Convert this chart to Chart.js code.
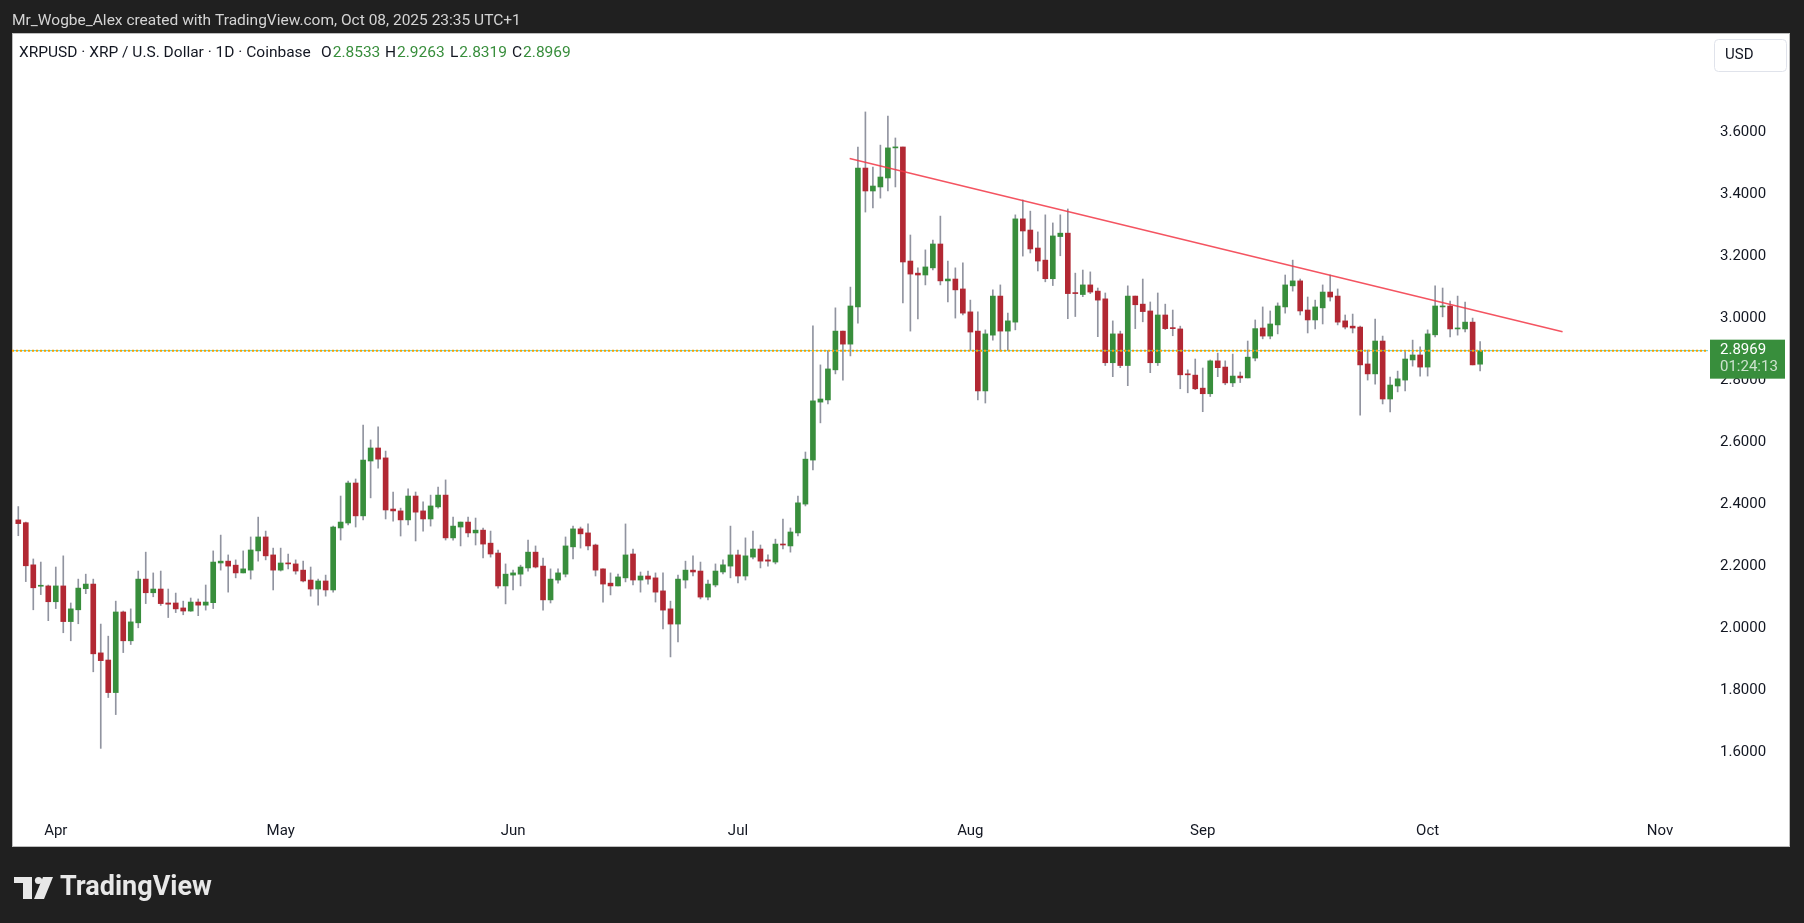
<!DOCTYPE html>
<html>
<head>
<meta charset="utf-8">
<title>XRPUSD daily</title>
<script src="https://cdn.jsdelivr.net/npm/chart.js@4.4.1/dist/chart.umd.min.js"></script>
<style>
  html, body { margin: 0; padding: 0; background: #202020; overflow: hidden; }
  canvas { display: block; }
</style>
</head>
<body>
<canvas id="chart" width="1804" height="923"></canvas>
<script>

// Daily candles, 27 Mar 2025 -> 8 Oct 2025
var opens = [
	2.351, 2.342, 2.206, 2.137, 2.138, 2.087, 2.138, 2.023, 2.061, 2.129,
	2.144, 1.922, 1.899, 1.794, 2.054, 1.961, 2.019, 2.160, 2.116, 2.128,
	2.083, 2.083, 2.067, 2.057, 2.086, 2.076, 2.084, 2.212, 2.218, 2.205,
	2.180, 2.189, 2.251, 2.296, 2.238, 2.189, 2.212, 2.209, 2.189, 2.157,
	2.128, 2.154, 2.125, 2.325, 2.341, 2.470, 2.364, 2.541, 2.583, 2.551,
	2.386, 2.380, 2.351, 2.428, 2.380, 2.354, 2.393, 2.431, 2.293, 2.328,
	2.344, 2.309, 2.318, 2.276, 2.244, 2.138, 2.173, 2.176, 2.196, 2.247,
	2.202, 2.093, 2.157, 2.176, 2.264, 2.322, 2.309, 2.270, 2.193, 2.147,
	2.138, 2.164, 2.241, 2.157, 2.170, 2.164, 2.122, 2.064, 2.015, 2.157,
	2.189, 2.186, 2.102, 2.141, 2.183, 2.202, 2.238, 2.170, 2.231, 2.257,
	2.222, 2.215, 2.273, 2.267, 2.309, 2.402, 2.544, 2.731, 2.738, 2.835,
	2.960, 2.918, 3.038, 3.486, 3.412, 3.425, 3.454, 3.551, 3.554, 3.186,
	3.147, 3.141, 3.164, 3.241, 3.122, 3.128, 3.096, 3.022, 2.960, 2.767,
	2.947, 3.073, 2.960, 2.989, 3.322, 3.286, 3.228, 3.189, 3.129, 3.265,
	3.276, 3.083, 3.078, 3.109, 3.089, 3.064, 2.858, 2.951, 2.849, 3.073,
	3.047, 3.025, 2.858, 3.012, 2.970, 2.967, 2.821, 2.818, 2.776, 2.758,
	2.864, 2.844, 2.793, 2.815, 2.809, 2.873, 2.970, 2.944, 2.980, 3.038,
	3.106, 3.122, 3.028, 2.996, 3.035, 3.086, 3.073, 2.993, 2.976, 2.973,
	2.854, 2.822, 2.928, 2.741, 2.783, 2.802, 2.867, 2.883, 2.844, 2.948,
	3.038, 3.041, 2.967, 2.967, 2.989, 2.8533
];
var highs = [
	2.394, 2.344, 2.225, 2.215, 2.141, 2.199, 2.235, 2.083, 2.160, 2.176,
	2.160, 2.015, 1.976, 2.089, 2.057, 2.064, 2.186, 2.247, 2.180, 2.186,
	2.128, 2.115, 2.089, 2.099, 2.096, 2.141, 2.251, 2.302, 2.238, 2.222,
	2.251, 2.296, 2.360, 2.315, 2.260, 2.260, 2.241, 2.222, 2.218, 2.199,
	2.160, 2.173, 2.331, 2.428, 2.476, 2.483, 2.657, 2.609, 2.651, 2.573,
	2.441, 2.389, 2.451, 2.441, 2.409, 2.431, 2.457, 2.480, 2.360, 2.344,
	2.360, 2.357, 2.325, 2.315, 2.254, 2.209, 2.189, 2.205, 2.286, 2.267,
	2.228, 2.193, 2.193, 2.296, 2.331, 2.328, 2.338, 2.273, 2.193, 2.180,
	2.176, 2.338, 2.257, 2.183, 2.186, 2.180, 2.180, 2.089, 2.173, 2.218,
	2.235, 2.215, 2.157, 2.209, 2.222, 2.331, 2.254, 2.293, 2.315, 2.270,
	2.238, 2.289, 2.354, 2.325, 2.428, 2.570, 2.977, 2.851, 2.896, 3.035,
	2.960, 3.102, 3.554, 3.667, 3.489, 3.560, 3.654, 3.583, 3.554, 3.270,
	3.164, 3.222, 3.254, 3.331, 3.186, 3.164, 3.180, 3.060, 3.022, 2.964,
	3.093, 3.109, 3.018, 3.335, 3.383, 3.347, 3.280, 3.335, 3.309, 3.335,
	3.354, 3.147, 3.157, 3.151, 3.099, 3.083, 2.993, 2.960, 3.106, 3.073,
	3.128, 3.054, 3.083, 3.047, 3.028, 2.976, 2.835, 2.870, 2.841, 2.867,
	2.889, 2.864, 2.886, 2.828, 2.928, 2.996, 3.038, 3.025, 3.051, 3.141,
	3.189, 3.128, 3.070, 3.060, 3.109, 3.141, 3.096, 3.012, 3.015, 2.976,
	2.899, 2.999, 2.944, 2.812, 2.831, 2.896, 2.931, 2.909, 2.964, 3.106,
	3.099, 3.057, 3.073, 3.054, 3.002, 2.9263
];
var lows = [
	2.300, 2.152, 2.061, 2.110, 2.026, 2.065, 1.987, 1.961, 2.016, 2.113,
	1.861, 1.614, 1.778, 1.723, 1.923, 1.949, 2.003, 2.081, 2.103, 2.075,
	2.036, 2.052, 2.045, 2.056, 2.042, 2.060, 2.065, 2.189, 2.118, 2.164,
	2.180, 2.160, 2.218, 2.222, 2.125, 2.186, 2.193, 2.176, 2.151, 2.105,
	2.076, 2.105, 2.118, 2.286, 2.335, 2.328, 2.351, 2.422, 2.518, 2.354,
	2.347, 2.299, 2.335, 2.283, 2.315, 2.331, 2.389, 2.286, 2.286, 2.267,
	2.296, 2.270, 2.228, 2.231, 2.131, 2.080, 2.125, 2.138, 2.186, 2.196,
	2.060, 2.083, 2.147, 2.167, 2.225, 2.260, 2.254, 2.170, 2.086, 2.109,
	2.138, 2.151, 2.141, 2.118, 2.144, 2.086, 1.999, 1.909, 1.957, 2.131,
	2.170, 2.096, 2.093, 2.135, 2.177, 2.164, 2.148, 2.157, 2.225, 2.196,
	2.202, 2.209, 2.257, 2.247, 2.299, 2.396, 2.512, 2.664, 2.725, 2.822,
	2.802, 2.880, 2.986, 3.344, 3.357, 3.389, 3.412, 3.425, 3.051, 2.960,
	2.999, 3.109, 3.157, 3.109, 3.054, 3.002, 3.012, 2.899, 2.738, 2.728,
	2.931, 2.896, 2.899, 2.964, 3.202, 3.212, 3.154, 3.119, 3.107, 3.203,
	3.000, 3.007, 3.071, 3.081, 2.942, 2.849, 2.813, 2.842, 2.784, 2.968,
	2.990, 2.826, 2.849, 2.965, 2.945, 2.774, 2.761, 2.771, 2.700, 2.749,
	2.813, 2.787, 2.781, 2.794, 2.809, 2.864, 2.935, 2.935, 2.951, 3.018,
	3.089, 3.012, 2.954, 2.967, 2.983, 3.057, 2.980, 2.967, 2.954, 2.689,
	2.802, 2.789, 2.725, 2.699, 2.764, 2.767, 2.847, 2.815, 2.815, 2.941,
	3.006, 2.941, 2.947, 2.957, 2.851, 2.8319
];
var closes = [
	2.339, 2.203, 2.132, 2.139, 2.087, 2.138, 2.023, 2.064, 2.131, 2.144,
	1.919, 1.897, 1.794, 2.054, 1.961, 2.022, 2.160, 2.116, 2.128, 2.081,
	2.079, 2.064, 2.057, 2.086, 2.076, 2.086, 2.215, 2.218, 2.202, 2.180,
	2.193, 2.254, 2.296, 2.235, 2.189, 2.212, 2.209, 2.186, 2.154, 2.128,
	2.154, 2.125, 2.328, 2.344, 2.470, 2.364, 2.544, 2.583, 2.547, 2.383,
	2.380, 2.351, 2.428, 2.376, 2.354, 2.396, 2.431, 2.293, 2.331, 2.344,
	2.309, 2.318, 2.273, 2.241, 2.138, 2.176, 2.180, 2.199, 2.247, 2.199,
	2.093, 2.160, 2.180, 2.267, 2.322, 2.306, 2.267, 2.189, 2.144, 2.138,
	2.167, 2.238, 2.157, 2.170, 2.160, 2.118, 2.060, 2.015, 2.160, 2.189,
	2.183, 2.102, 2.144, 2.186, 2.206, 2.238, 2.170, 2.235, 2.257, 2.218,
	2.218, 2.273, 2.270, 2.312, 2.406, 2.547, 2.735, 2.741, 2.838, 2.960,
	2.918, 3.041, 3.486, 3.412, 3.428, 3.457, 3.551, 3.554, 3.183, 3.144,
	3.141, 3.167, 3.241, 3.122, 3.128, 3.093, 3.018, 2.957, 2.767, 2.951,
	3.073, 2.960, 2.993, 3.322, 3.283, 3.225, 3.186, 3.129, 3.267, 3.276,
	3.081, 3.081, 3.109, 3.086, 3.060, 2.858, 2.951, 2.849, 3.073, 3.045,
	3.023, 2.858, 3.012, 2.968, 2.968, 2.819, 2.819, 2.774, 2.758, 2.864,
	2.842, 2.793, 2.815, 2.809, 2.876, 2.968, 2.944, 2.983, 3.041, 3.109,
	3.122, 3.025, 2.996, 3.038, 3.086, 3.070, 2.989, 2.973, 2.970, 2.851,
	2.822, 2.928, 2.741, 2.786, 2.806, 2.870, 2.883, 2.844, 2.951, 3.041,
	3.041, 2.967, 2.970, 2.989, 2.851, 2.8969
];

// x axis: day index of the first of each month (index 0 = 27 Mar)
var monthStarts = [5, 35, 66, 96, 127, 158, 188, 219];
var monthLabels = ['Apr', 'May', 'Jun', 'Jul', 'Aug', 'Sep', 'Oct', 'Nov'];
var priceTicks = [1.6, 1.8, 2.0, 2.2, 2.4, 2.6, 2.8, 3.0, 3.2, 3.4, 3.6];

// Drawn trend line, [day index, price]
var trendStart = [110.9, 3.517];
var trendEnd = [206.0, 2.958];

var lastPrice = closes[closes.length - 1];
var countdown = '01:24:13';

// Colours
var upColour = '#388e3c';
var downColour = '#b22833';
var wickColour = '#9194a0';
var textColour = '#131722';
var fontFamily = 'Roboto, "Liberation Sans", sans-serif';

// Visible range of the panel
var xMin = -0.84;
var xMax = 225.4;
var yMin = 1.4023;
var yMax = 3.9184;

// Build candle datasets (wick = thin floating bar, body = wider floating bar)
var wickData = [];
var bodyData = [];
var bodyColours = [];
opens.forEach(function (o, i) {
	wickData.push({x: i, y: [lows[i], highs[i]]});
	bodyData.push({x: i, y: [o, closes[i]]});
	bodyColours.push(closes[i] >= o ? upColour : downColour);
});

// Frame, header texts, price scale labels and price label are drawn around the chart
var framePlugin = {
	id: 'frame',
	beforeDraw: function (chart) {
		var ctx = chart.ctx;
		ctx.save();
		ctx.fillStyle = '#202020';
		ctx.fillRect(0, 0, chart.width, chart.height);
		ctx.fillStyle = '#ffffff';
		ctx.fillRect(12, 33, 1778, 814);
		ctx.strokeStyle = '#bdbdbd';
		ctx.lineWidth = 1;
		ctx.strokeRect(12.5, 33.5, 1777, 813);
		ctx.restore();
	},
	afterDraw: function (chart) {
		var ctx = chart.ctx;
		var yScale = chart.scales.y;
		var last = opens.length - 1;
		ctx.save();
		ctx.textBaseline = 'middle';
		ctx.textAlign = 'left';

		// Snapshot caption
		ctx.fillStyle = '#d4d4d4';
		ctx.font = '15.5px ' + fontFamily;
		ctx.fillText('Mr_Wogbe_Alex created with TradingView.com, Oct 08, 2025 23:35 UTC+1', 12, 21);

		// Symbol line
		ctx.fillStyle = textColour;
		ctx.font = '15.5px ' + fontFamily;
		ctx.fillText('XRPUSD \u00b7 XRP / U.S. Dollar \u00b7 1D \u00b7 Coinbase', 19, 53);
		var ohlc = [
			['O', opens[last], 321],
			['H', highs[last], 385],
			['L', lows[last], 450],
			['C', closes[last], 512]
		];
		ohlc.forEach(function (item) {
			ctx.fillStyle = textColour;
			ctx.fillText(item[0], item[2], 53);
			var w = ctx.measureText(item[0]).width;
			ctx.fillStyle = upColour;
			ctx.fillText(item[1].toFixed(4), item[2] + w + 1, 53);
		});

		// Price scale labels, placed with the y scale
		ctx.fillStyle = textColour;
		ctx.font = '15px ' + fontFamily;
		priceTicks.forEach(function (v) {
			ctx.fillText(v.toFixed(4), 1720, yScale.getPixelForValue(v));
		});

		// Currency button
		ctx.strokeStyle = '#e0e3eb';
		ctx.lineWidth = 1;
		ctx.beginPath();
		ctx.roundRect(1714.5, 39.5, 72, 32, 4);
		ctx.stroke();
		ctx.fillStyle = textColour;
		ctx.fillText('USD', 1725, 55);

		// Last price label on the price axis
		var py = yScale.getPixelForValue(lastPrice);
		ctx.fillStyle = upColour;
		ctx.fillRect(1710, py - 11, 75, 39);
		ctx.fillStyle = '#ffffff';
		ctx.fillText(lastPrice.toFixed(4), 1720, py);
		ctx.fillStyle = 'rgba(255,255,255,0.75)';
		ctx.fillText(countdown, 1720, py + 17);

		// TradingView logo
		ctx.fillStyle = '#e8e8e8';
		ctx.fillRect(14, 877, 18, 6);
		ctx.fillRect(23, 877, 9, 22);
		ctx.beginPath();
		ctx.arc(38.5, 880.5, 3.6, 0, Math.PI * 2);
		ctx.fill();
		ctx.beginPath();
		ctx.moveTo(43, 877);
		ctx.lineTo(53, 877);
		ctx.lineTo(44, 899);
		ctx.lineTo(34, 899);
		ctx.closePath();
		ctx.fill();
		ctx.font = 'bold 27px ' + fontFamily;
		ctx.fillText('TradingView', 60, 888);

		ctx.restore();
	}
};

var chart = new Chart(document.getElementById('chart').getContext('2d'), {
	type: 'bar',
	data: {
		datasets: [
			{
				label: 'Wicks',
				data: wickData,
				backgroundColor: wickColour,
				barThickness: 1,
				grouped: false,
				order: 4
			},
			{
				label: 'Bodies',
				data: bodyData,
				backgroundColor: bodyColours,
				barThickness: 5,
				minBarLength: 1,
				grouped: false,
				order: 3
			},
			{
				// last price line: orange dots with cyan dots in the gaps
				type: 'line',
				label: 'Last price',
				data: [{x: xMin, y: lastPrice}, {x: xMax, y: lastPrice}],
				borderColor: 'rgba(46,199,201,0.8)',
				borderWidth: 1,
				borderDash: [2, 2],
				borderDashOffset: 2,
				pointRadius: 0,
				order: 2
			},
			{
				type: 'line',
				label: 'Last price 2',
				data: [{x: xMin, y: lastPrice}, {x: xMax, y: lastPrice}],
				borderColor: '#f7a000',
				borderWidth: 2,
				borderDash: [2, 2],
				pointRadius: 0,
				order: 1
			},
			{
				type: 'line',
				label: 'Trend',
				data: [{x: trendStart[0], y: trendStart[1]}, {x: trendEnd[0], y: trendEnd[1]}],
				borderColor: 'rgba(242,54,69,0.85)',
				borderWidth: 1.5,
				pointRadius: 0,
				order: 0
			}
		]
	},
	options: {
		responsive: false,
		animation: false,
		devicePixelRatio: 1,
		layout: {
			padding: {left: 12, top: 34, right: 14, bottom: 76}
		},
		plugins: {
			legend: {display: false},
			tooltip: {enabled: false}
		},
		scales: {
			x: {
				type: 'linear',
				min: xMin,
				max: xMax,
				offset: false,
				grid: {display: false, drawTicks: false},
				border: {display: false},
				afterBuildTicks: function (scale) {
					scale.ticks = monthStarts.map(function (v) { return {value: v}; });
				},
				afterFit: function (scale) {
					scale.height = 33;
				},
				ticks: {
					autoSkip: false,
					maxRotation: 0,
					padding: 8,
					color: textColour,
					font: {family: fontFamily, size: 15},
					callback: function (value, index) {
						return monthLabels[index];
					}
				}
			},
			y: {
				type: 'linear',
				position: 'right',
				min: yMin,
				max: yMax,
				grid: {display: false, drawTicks: false},
				border: {display: false},
				afterBuildTicks: function (scale) {
					scale.ticks = priceTicks.map(function (v) { return {value: v}; });
				},
				afterFit: function (scale) {
					// fixed axis width, and no extra room above / below the plot
					scale.width = 82;
					scale.paddingTop = 0;
					scale.paddingBottom = 0;
				},
				ticks: {
					// labels are drawn by the frame plugin
					display: false
				}
			}
		}
	},
	plugins: [framePlugin]
});

</script>
</body>
</html>
